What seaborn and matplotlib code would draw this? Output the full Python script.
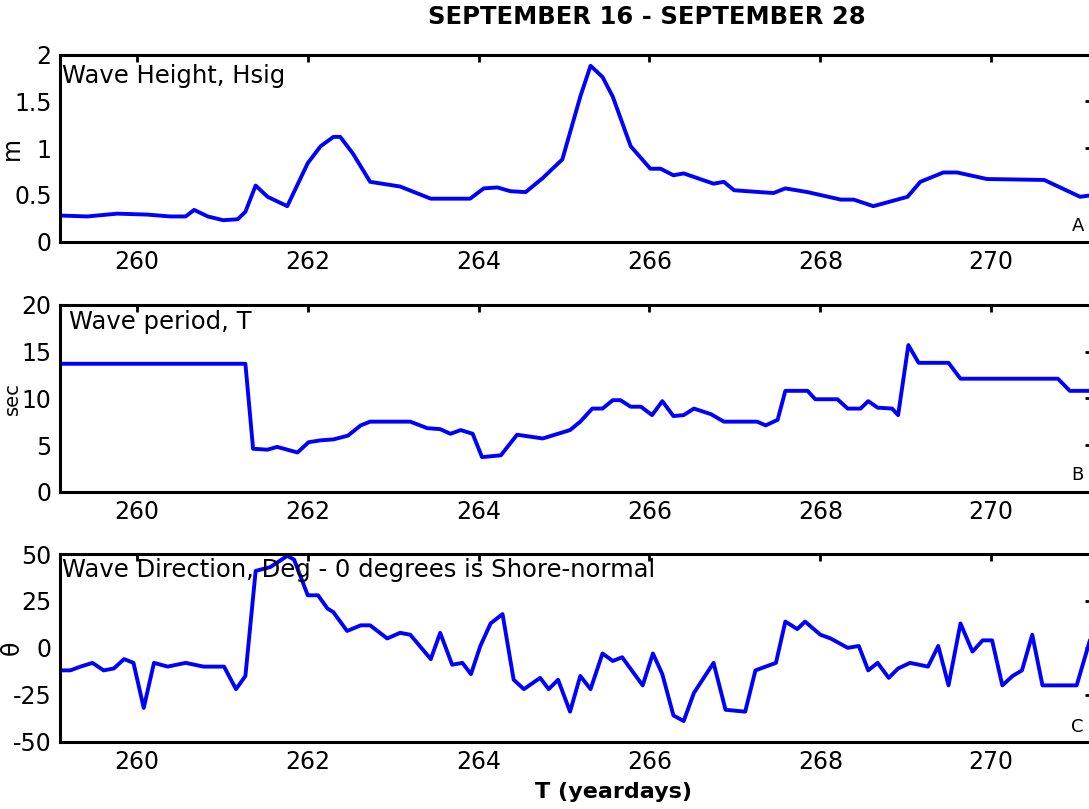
"""
Wave conditions, Sep 16 - Sep 28: Hsig, period and direction stacked panels.
Saves out.png.
"""
import matplotlib
matplotlib.use("Agg")
import matplotlib.pyplot as plt
import pandas as pd
import seaborn as sns

# ---------------------------------------------------------------------------
# data (yearday, value)
# ---------------------------------------------------------------------------
HSIG_T = [259.10, 259.42, 259.77, 260.12, 260.39, 260.57, 260.67, 260.83, 261.01, 261.18,
          261.27, 261.39, 261.53, 261.76, 262.00, 262.15, 262.30, 262.38, 262.53, 262.73,
          263.08, 263.44, 263.90, 264.06, 264.22, 264.37, 264.55, 264.75, 264.98, 265.19,
          265.31, 265.45, 265.57, 265.78, 266.01, 266.13, 266.28, 266.40, 266.75, 266.87,
          266.99, 267.45, 267.59, 267.85, 268.24, 268.39, 268.62, 268.82, 269.02, 269.17,
          269.44, 269.60, 269.95, 270.62, 271.04, 271.20]
HSIG = [0.28, 0.27, 0.30, 0.29, 0.27, 0.27, 0.34, 0.27, 0.23, 0.24,
        0.32, 0.60, 0.48, 0.38, 0.84, 1.02, 1.12, 1.12, 0.94, 0.64,
        0.59, 0.46, 0.46, 0.57, 0.58, 0.54, 0.53, 0.68, 0.88, 1.55,
        1.88, 1.76, 1.55, 1.02, 0.78, 0.78, 0.71, 0.73, 0.62, 0.64,
        0.55, 0.52, 0.57, 0.53, 0.45, 0.45, 0.38, 0.43, 0.48, 0.64,
        0.74, 0.74, 0.67, 0.66, 0.48, 0.50]

PER_T = [259.10, 261.27, 261.36, 261.53, 261.64, 261.88, 262.01, 262.15, 262.30, 262.47,
         262.62, 262.73, 263.20, 263.40, 263.55, 263.67, 263.79, 263.93, 264.04, 264.26,
         264.45, 264.75, 265.07, 265.19, 265.33, 265.45, 265.57, 265.66, 265.78, 265.90,
         266.03, 266.15, 266.28, 266.40, 266.52, 266.72, 266.87, 267.26, 267.36, 267.50,
         267.59, 267.85, 267.94, 268.20, 268.32, 268.47, 268.56, 268.67, 268.84, 268.91,
         269.03, 269.15, 269.50, 269.64, 270.78, 270.92, 271.20]
PER = [13.7, 13.7, 4.6, 4.5, 4.8, 4.2, 5.3, 5.5, 5.6, 6.0,
       7.1, 7.5, 7.5, 6.8, 6.7, 6.2, 6.6, 6.2, 3.7, 3.9,
       6.1, 5.7, 6.6, 7.5, 8.9, 8.9, 9.8, 9.8, 9.1, 9.1,
       8.2, 9.7, 8.1, 8.2, 8.9, 8.3, 7.5, 7.5, 7.1, 7.7,
       10.8, 10.8, 9.9, 9.9, 8.9, 8.9, 9.7, 9.0, 8.9, 8.2,
       15.7, 13.8, 13.8, 12.1, 12.1, 10.8, 10.8]

DIR_T = [259.09, 259.22, 259.34, 259.48, 259.61, 259.73, 259.85, 259.96, 260.08, 260.20,
         260.36, 260.57, 260.78, 261.02, 261.16, 261.27, 261.39, 261.56, 261.76, 261.84,
         262.00, 262.12, 262.23, 262.30, 262.46, 262.62, 262.73, 262.93, 263.08, 263.20,
         263.44, 263.55, 263.69, 263.81, 263.91, 264.02, 264.14, 264.28, 264.41, 264.53,
         264.72, 264.82, 264.93, 265.07, 265.19, 265.31, 265.45, 265.57, 265.68, 265.92,
         266.04, 266.15, 266.28, 266.40, 266.52, 266.75, 266.89, 267.12, 267.24, 267.48,
         267.59, 267.73, 267.82, 268.00, 268.12, 268.32, 268.45, 268.56, 268.67, 268.80,
         268.91, 269.05, 269.26, 269.38, 269.50, 269.64, 269.78, 269.90, 270.01, 270.13,
         270.25, 270.36, 270.48, 270.60, 270.72, 270.84, 271.00, 271.20]
DIRN = [-12, -12, -10, -8, -12, -11, -6, -8, -32, -8,
        -10, -8, -10, -10, -22, -15, 41, 43, 49, 47,
        28, 28, 21, 19, 9, 12, 12, 5, 8, 7,
        -6, 8, -9, -8, -14, 1, 13, 18, -17, -22,
        -16, -22, -17, -34, -15, -22, -3, -7, -5, -20,
        -3, -14, -36, -39, -24, -8, -33, -34, -12, -8,
        14, 10, 14, 7, 5, 0, 1, -12, -8, -16,
        -11, -8, -10, 1, -20, 13, -2, 4, 4, -20,
        -15, -12, 7, -20, -20, -20, -20, 11]

PANELS = [
    ("Wave Height, Hsig", "A", "m", HSIG_T, HSIG, (0, 2), [0, 0.5, 1, 1.5, 2], ["0", "0.5", "1", "1.5", "2"]),
    ("Wave period, T", "B", "sec", PER_T, PER, (0, 20), [0, 5, 10, 15, 20], ["0", "5", "10", "15", "20"]),
    ("Wave Direction, Deg - 0 degrees is Shore-normal", "C", "\u03b8", DIR_T, DIRN, (-50, 50),
     [-50, -25, 0, 25, 50], ["-50", "-25", "0", "25", "50"]),
]
XTICKS = [260, 262, 264, 266, 268, 270]
XLIM = (259.10, 271.18)

sns.set_style("white")
plt.rcParams["font.family"] = ["DejaVu Sans"]
plt.rcParams["text.color"] = "black"
plt.rcParams["axes.labelcolor"] = "black"

fig = plt.figure(figsize=(10.89, 8.09), dpi=100)
# axes boxes in figure fractions: left, bottom, width, height
boxes = [(0.0551, 0.7012, 0.9477, 0.2314),
         (0.0551, 0.3922, 0.9477, 0.2309),
         (0.0551, 0.0832, 0.9477, 0.2320)]
label_y = [(0.885, 0.084), (0.908, 0.089), (0.915, 0.078)]
label_x = [0.002, 0.009, 0.002]
ylab_x = [-0.035, -0.0365, -0.035]
ylab_size = [17, 14, 17]

for (title, tag, ylab, t, v, ylim, yt, ytl), box, (ty, gy), tx, yx, ys in zip(
        PANELS, boxes, label_y, label_x, ylab_x, ylab_size):
    ax = fig.add_axes(box)
    df = pd.DataFrame({"t": t, "v": v})
    sns.lineplot(data=df, x="t", y="v", ax=ax, color="#0000ff", linewidth=2.8,
                 estimator=None, sort=False)
    ax.set_xlim(*XLIM)
    ax.set_ylim(*ylim)
    ax.set_xticks(XTICKS)
    ax.set_xticklabels([str(x) for x in XTICKS])
    ax.set_yticks(yt)
    ax.set_yticklabels(ytl)
    ax.tick_params(direction="in", length=5, width=2, labelsize=17, pad=6,
                   top=True, right=True, colors="black")
    for sp in ax.spines.values():
        sp.set_linewidth(2.2)
        sp.set_color("black")
    ax.set_xlabel("")
    ax.set_ylabel(ylab, fontsize=ys, labelpad=0)
    ax.yaxis.set_label_coords(yx, 0.5)
    ax.text(tx, ty, title, transform=ax.transAxes, fontsize=17.5, va="center", ha="left")
    ax.text(0.986, gy, tag, transform=ax.transAxes, fontsize=13, va="center", ha="center")

fig.text(0.594, 0.979, "SEPTEMBER 16 - SEPTEMBER 28", fontsize=17.5, fontweight="bold",
         ha="center", va="center")
fig.text(0.563, 0.021, "T (yeardays)", fontsize=16, fontweight="bold", ha="center", va="center")

fig.savefig("out.png", dpi=100)
plt.close(fig)
